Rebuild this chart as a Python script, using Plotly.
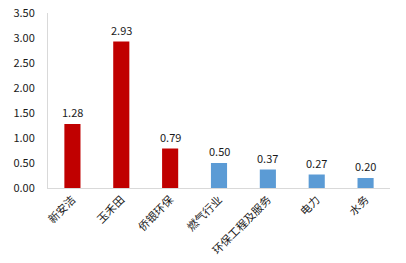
import plotly.graph_objects as go

categories = ["新安洁", "玉禾田", "侨银环保", "燃气行业", "环保工程及服务", "电力", "水务"]
values = [1.28, 2.93, 0.79, 0.50, 0.37, 0.27, 0.20]
colors = ["#C00000", "#C00000", "#C00000", "#5B9BD5", "#5B9BD5", "#5B9BD5", "#5B9BD5"]
tick_vals = [0, 0.5, 1.0, 1.5, 2.0, 2.5, 3.0, 3.5]

font_family = "Noto Sans CJK SC, DejaVu Sans, sans-serif"

fig = go.Figure(go.Bar(
    x=categories, y=values,
    marker=dict(color=colors, line=dict(width=0)),
    width=0.33,
    cliponaxis=False,
))

for c, v in zip(categories, values):
    fig.add_annotation(
        x=c, y=v, text=f"{v:.2f}", showarrow=False,
        yanchor="middle", yshift=12,
        font=dict(size=11, color="#1a1a1a", family=font_family),
    )

fig.update_layout(
    width=406, height=263,
    margin=dict(l=48, r=16, t=13, b=75, autoexpand=False),
    paper_bgcolor="white", plot_bgcolor="white",
    showlegend=False,
    font=dict(family=font_family, size=11, color="#1a1a1a"),
)
fig.update_xaxes(
    tickangle=-45, showline=True, linecolor="#D9D9D9", linewidth=1,
    ticks="", showgrid=False, automargin=False,
    tickfont=dict(size=11, family=font_family),
)
fig.update_yaxes(
    range=[0, 3.5], tickvals=tick_vals, tickformat=".2f",
    showline=True, linecolor="#D9D9D9", linewidth=1,
    showgrid=False, zeroline=False, ticks="", automargin=False,
    tickfont=dict(size=11, family=font_family), ticklabelstandoff=10,
)

fig.write_html("out.html")
